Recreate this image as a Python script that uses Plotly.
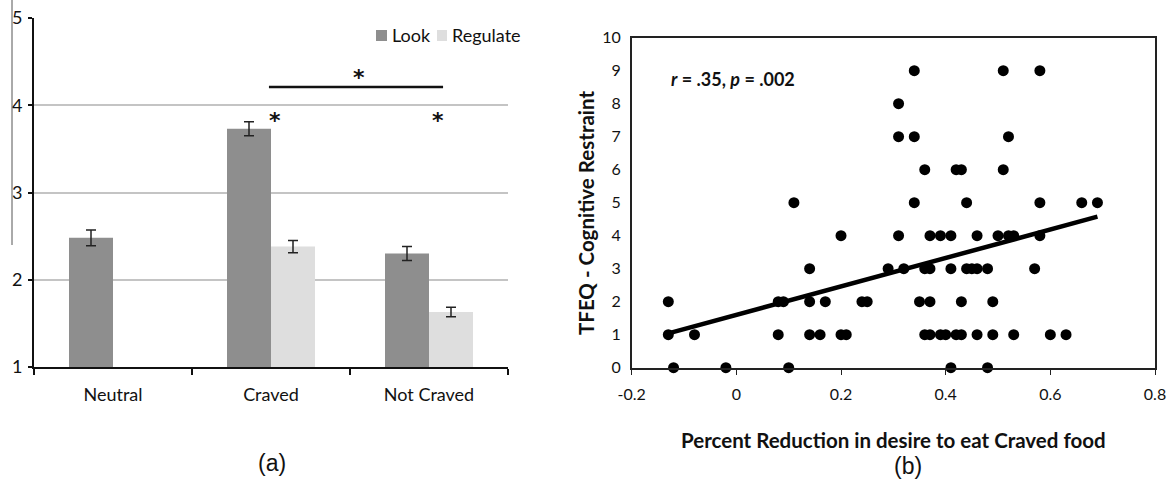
import numpy as np
import plotly.graph_objects as go

# ---------------- Panel (a) data ----------------
categories = ["Neutral", "Craved", "Not Craved"]
look_vals = [2.48, 3.73, 2.30]
look_err = [0.09, 0.08, 0.08]
regulate_vals = [None, 2.38, 1.63]
regulate_err = [0, 0.07, 0.055]
a_yticks = [1, 2, 3, 4, 5]

# ---------------- Panel (b) data ----------------
reduction_x = [
    0.34, 0.51, 0.58,
    0.31,
    0.31, 0.34, 0.52,
    0.36, 0.42, 0.43, 0.51,
    0.11, 0.34, 0.44, 0.58, 0.66, 0.69,
    0.20, 0.31, 0.37, 0.39, 0.41, 0.46, 0.50, 0.52, 0.53, 0.58,
    0.14, 0.29, 0.32, 0.36, 0.37, 0.41, 0.44, 0.45, 0.46, 0.48, 0.57,
    -0.13, 0.08, 0.09, 0.14, 0.17, 0.24, 0.25, 0.35, 0.37, 0.43, 0.49,
    -0.13, -0.08, 0.08, 0.14, 0.16, 0.20, 0.21, 0.36, 0.37, 0.39, 0.40, 0.42, 0.43, 0.46, 0.49, 0.53, 0.60, 0.63,
    -0.12, -0.02, 0.10, 0.41, 0.48,
]
restraint_y = (
    [9] * 3 + [8] * 1 + [7] * 3 + [6] * 4 + [5] * 6 + [4] * 10 + [3] * 11
    + [2] * 11 + [1] * 18 + [0] * 5
)
b_xtickvals = [-0.2, 0, 0.2, 0.4, 0.6, 0.8]
b_xticktext = ["-0.2", "0", "0.2", "0.4", "0.6", "0.8"]
b_ytickvals = list(range(0, 11))

W, H = 1172, 480
FONT = "Lato"
LOOK_C = "#8e8e8e"
REG_C = "#dedede"

def px(xp):
    return xp / W

def py(yp):
    return 1 - yp / H

fig = go.Figure()

fig.add_trace(go.Bar(
    x=categories, y=look_vals, name="Look", marker=dict(color=LOOK_C, line=dict(width=0)),
    error_y=dict(type="data", array=look_err, color="#222222", thickness=1.5, width=5),
    xaxis="x", yaxis="y", showlegend=False,
))
fig.add_trace(go.Bar(
    x=categories, y=regulate_vals, name="Regulate", marker=dict(color=REG_C, line=dict(width=0)),
    error_y=dict(type="data", array=regulate_err, color="#222222", thickness=1.5, width=5),
    xaxis="x", yaxis="y", showlegend=False,
))

# scatter
fig.add_trace(go.Scatter(
    x=reduction_x, y=restraint_y, mode="markers",
    marker=dict(color="black", size=11), cliponaxis=False,
    xaxis="x2", yaxis="y2", showlegend=False,
))

# regression line fitted to the data
slope, intercept = np.polyfit(reduction_x, restraint_y, 1)
xl = np.array([min(reduction_x), max(reduction_x)])
fig.add_trace(go.Scatter(
    x=xl, y=slope * xl + intercept, mode="lines",
    line=dict(color="black", width=4.5), xaxis="x2", yaxis="y2", showlegend=False,
))

fig.update_layout(
    width=W, height=H, autosize=False,
    margin=dict(l=0, r=0, t=0, b=0),
    paper_bgcolor="white", plot_bgcolor="white",
    font=dict(family=FONT, color="#111111"),
    barmode="group", bargap=0.443, bargroupgap=0,
    xaxis=dict(
        domain=[px(34), px(508)], range=[-0.5, 2.5], type="category", automargin=False,
        showline=True, linecolor="#111111", linewidth=2,
        ticks="outside", tickson="boundaries", ticklen=6, tickcolor="#111111", tickwidth=1.5,
        tickfont=dict(size=18, family=FONT), ticklabelstandoff=10,
        showgrid=False, fixedrange=True,
    ),
    yaxis=dict(
        domain=[py(367), py(18)], range=[1, 5], tickvals=a_yticks, automargin=False,
        showline=True, linecolor="#111111", linewidth=2,
        ticks="outside", ticklen=4, tickcolor="#111111", tickwidth=1.5,
        tickfont=dict(size=18, family=FONT), ticklabelstandoff=2,
        showgrid=True, gridcolor="#c4c4c4", gridwidth=1.5,
        zeroline=False,
    ),
    xaxis2=dict(
        domain=[px(631.7), px(1155)], range=[-0.2, 0.8], automargin=False,
        tickvals=b_xtickvals, ticktext=b_xticktext,
        showline=True, mirror=True, linecolor="#222222", linewidth=1.5,
        ticks="outside", ticklen=6, tickcolor="#222222",
        tickfont=dict(size=16, family=FONT), ticklabelstandoff=5,
        showgrid=False, zeroline=False, anchor="y2",
    ),
    yaxis2=dict(
        domain=[py(367.7), py(37.7)], range=[0, 10], tickvals=b_ytickvals, automargin=False,
        showline=True, mirror=True, linecolor="#222222", linewidth=1.5,
        ticks="", tickfont=dict(size=16, family=FONT), ticklabelstandoff=6,
        showgrid=False, zeroline=False, anchor="x2",
    ),
)

shapes = [
    # stray crop line at left edge
    dict(type="line", xref="paper", yref="paper", x0=px(12), x1=px(12), y0=py(0), y1=py(245),
         line=dict(color="#555555", width=1)),
    # legend squares
    dict(type="rect", xref="paper", yref="paper", x0=px(376), x1=px(387), y0=py(41), y1=py(30),
         fillcolor=LOOK_C, line=dict(width=0)),
    dict(type="rect", xref="paper", yref="paper", x0=px(437), x1=px(447), y0=py(41), y1=py(30),
         fillcolor=REG_C, line=dict(width=0)),
    # significance bar
    dict(type="line", xref="x", yref="y", x0=0.987, x1=2.089, y0=4.21, y1=4.21,
         line=dict(color="#111111", width=2.5)),
]
fig.update_layout(shapes=shapes)

STAR_FONT = dict(size=22, family="DejaVu Sans")
ann = [
    dict(text="Look", xref="paper", yref="paper", x=px(390), y=py(35), xanchor="left", yanchor="middle",
         showarrow=False, font=dict(size=18, family=FONT)),
    dict(text="Regulate", xref="paper", yref="paper", x=px(450), y=py(35), xanchor="left", yanchor="middle",
         showarrow=False, font=dict(size=18, family=FONT)),
    dict(text="<b>*</b>", xref="x", yref="y", x=1.557, y=4.37, xanchor="center", yanchor="middle",
         showarrow=False, font=STAR_FONT, yshift=-5),
    dict(text="<b>*</b>", xref="x", yref="y", x=1.028, y=3.888, xanchor="center", yanchor="middle",
         showarrow=False, font=STAR_FONT, yshift=-5),
    dict(text="<b>*</b>", xref="x", yref="y", x=2.057, y=3.888, xanchor="center", yanchor="middle",
         showarrow=False, font=STAR_FONT, yshift=-5),
    dict(text="(a)", xref="paper", yref="paper", x=px(272), y=py(463), xanchor="center", yanchor="middle",
         showarrow=False, font=dict(size=23, family="Liberation Sans")),
    dict(text="(b)", xref="paper", yref="paper", x=px(908), y=py(466), xanchor="center", yanchor="middle",
         showarrow=False, font=dict(size=23, family="Liberation Sans")),
    dict(text="<b><i>r</i> = .35, <i>p</i> = .002</b>", xref="paper", yref="paper",
         x=px(669), y=py(79), xanchor="left", yanchor="middle", showarrow=False,
         font=dict(size=18, family=FONT)),
    dict(text="<b>Percent Reduction in desire to eat Craved food</b>", xref="paper", yref="paper",
         x=px(893), y=py(440), xanchor="center", yanchor="middle", showarrow=False,
         font=dict(size=20.5, family=FONT)),
    dict(text="<b>TFEQ - Cognitive Restraint</b>", xref="paper", yref="paper",
         x=px(586), y=py(213), xanchor="center", yanchor="middle", textangle=-90, showarrow=False,
         font=dict(size=20.5, family=FONT)),
]
fig.update_layout(annotations=ann)

fig.write_html("out.html", post_script="document.body.style.margin='0';",
               config={"displayModeBar": False})
